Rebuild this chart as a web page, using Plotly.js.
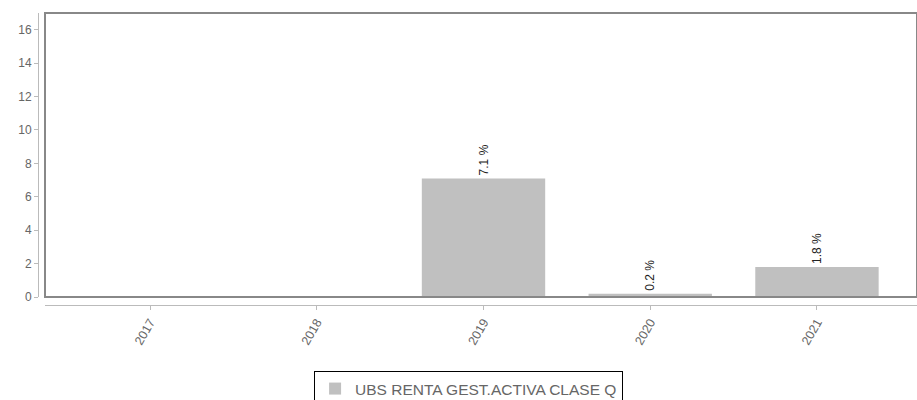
<!DOCTYPE html>
<html><head><meta charset="utf-8">
<script src="https://cdn.plot.ly/plotly-3.0.1.min.js"></script>
<style>html,body{margin:0;padding:0;background:#fff}#c{width:917px;height:400px}</style>
</head><body><div id="c"></div>
<script>
const years = ['2017','2018','2019','2020','2021'];
const values = [null, null, 7.1, 0.2, 1.8];
const labels = ['', '', '7.1 %', '0.2 %', '1.8 %'];
const seriesName = 'UBS RENTA GEST.ACTIVA CLASE Q';
const yTicks = [0,2,4,6,8,10,12,14,16];

const trace = {
  type: 'bar', x: years, y: values, name: seriesName,
  text: labels, textposition: 'outside', textangle: -90,
  textfont: {family: 'Liberation Sans, Arial, sans-serif', size: 12, color: '#222'},
  cliponaxis: false,
  marker: {color: '#c0c0c0', line: {width: 0}},
  width: 0.74, showlegend: true, hoverinfo: 'none'
};
const layout = {
  width: 917, height: 400,
  margin: {l: 38, r: 0, t: 13, b: 95},
  paper_bgcolor: '#fff', plot_bgcolor: '#fff',
  font: {family: 'Liberation Sans, Arial, sans-serif', size: 12, color: '#666'},
  xaxis: {type: 'category', domain: [7/879, 1], anchor: 'free', position: 0,
    range: [-0.63, 4.6], showline: true, linecolor: '#bbb', linewidth: 1,
    ticks: 'outside', ticklen: 4, tickcolor: '#bbb', tickangle: -60, automargin: false,
    showgrid: false, zeroline: false, tickfont: {size: 12.5, color: '#666'}},
  yaxis: {domain: [8/292, 1], anchor: 'free', position: 0, range: [0, 17], automargin: false,
    tickvals: yTicks, showline: true, linecolor: '#bbb', linewidth: 1,
    ticks: 'outside', ticklen: 4, tickcolor: '#bbb', showgrid: false, zeroline: false,
    tickfont: {size: 12, color: '#666'}},
  shapes: [{type: 'rect', xref: 'x domain', yref: 'y domain', x0: 0, x1: 1, y0: 0, y1: 1,
    line: {color: '#888', width: 2}, fillcolor: 'rgba(0,0,0,0)', layer: 'above'}],
  showlegend: true,
  legend: {orientation: 'h', x: 0.511, xref: 'container', xanchor: 'center',
    y: 1 - 371/400, yref: 'container', yanchor: 'top',
    bordercolor: '#000', borderwidth: 1, bgcolor: '#fff',
    font: {size: 15.5, color: '#666'}}
};
Plotly.newPlot('c', [trace], layout, {displayModeBar: false, staticPlot: true});
</script></body></html>
